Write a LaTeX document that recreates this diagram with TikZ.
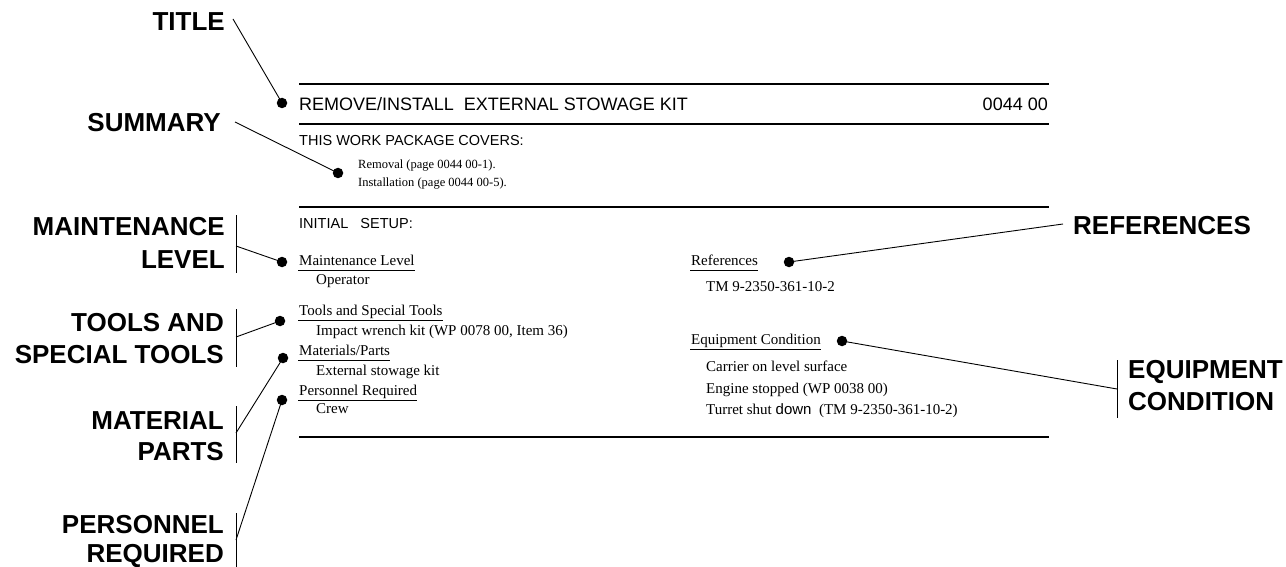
\documentclass[tikz,border=0pt]{standalone}
\usepackage{fontspec}
\setmainfont{Liberation Serif}
\setsansfont{Liberation Sans}
\begin{document}
\begin{tikzpicture}[x=1pt,y=-1pt,
  big/.style={font=\sffamily\bfseries\fontsize{26}{31}\selectfont, inner sep=0},
  bigR/.style={big, anchor=base east},
  bigL/.style={big, anchor=base west},
  ttl/.style={font=\sffamily\fontsize{18}{20}\selectfont, inner sep=0},
  hsans/.style={font=\sffamily\fontsize{14.5}{16}\selectfont, inner sep=0, anchor=base west},
  body/.style={font=\fontsize{15}{17}\selectfont, inner sep=0, anchor=base west},
  small/.style={font=\fontsize{12.5}{14}\selectfont, inner sep=0, anchor=base west},
  rule/.style={line width=2.2pt},
  uline/.style={line width=1.5pt},
  bar/.style={line width=0.9pt},
  conn/.style={line width=0.9pt},
  dot/.style={circle, fill=black, inner sep=0, minimum size=10.5pt}
]
\useasboundingbox (0,0) rectangle (1286,567);

% ---- document rules ----
\coordinate (r1a) at (299,84);  \coordinate (r1b) at (1049,84);
\coordinate (r2a) at (299,124); \coordinate (r2b) at (1049,124);
\coordinate (r3a) at (299,207); \coordinate (r3b) at (1049,207);
\coordinate (r4a) at (299,437); \coordinate (r4b) at (1049,437);
\draw[rule] (r1a) -- (r1b);
\draw[rule] (r2a) -- (r2b);
\draw[rule] (r3a) -- (r3b);
\draw[rule] (r4a) -- (r4b);

% ---- document texts ----
\node[ttl, anchor=base west] (tt) at (299,111) {REMOVE/INSTALL\ \ EXTERNAL STOWAGE KIT};
\node[ttl, anchor=base east] (wp) at (1048,111) {0044 00};
\node[hsans] (cov) at (299,146) {THIS WORK PACKAGE COVERS:};
\node[small] (rem) at (358,168) {Removal (page 0044 00-1).};
\node[small] (ins) at (358,186) {Installation (page 0044 00-5).};
\node[hsans] (init) at (299,229) {INITIAL\ \ \ SETUP:};

\node[body] (ml) at (299,265) {Maintenance Level};
\node[body] (op) at (316,284) {Operator};
\node[body] (ts) at (299,315) {Tools and Special Tools};
\node[body] (iw) at (316,335) {Impact wrench kit (WP 0078 00, Item 36)};
\node[body] (mp) at (299,355) {Materials/Parts};
\node[body] (es) at (316,375) {External stowage kit};
\node[body] (pr) at (299,395) {Personnel Required};
\node[body] (cr) at (316,413) {Crew};

\node[body] (rf) at (691,265) {References};
\node[body] (tm) at (706,291) {TM 9-2350-361-10-2};
\node[body] (ec) at (691,344) {Equipment Condition};
\node[body] (cl) at (706,371) {Carrier on level surface};
\node[body] (en) at (706,393) {Engine stopped (WP 0038 00)};
\node[body] (tu) at (706,414) {Turret shut {\sffamily down}\ \ (TM 9-2350-361-10-2)};

\foreach \n in {ml,ts,mp,pr,rf,ec}
  \draw[uline] ([shift={(-1pt,-5.5pt)}]\n.base west) -- ([yshift=-5.5pt]\n.base east);

% ---- dots ----
\node[dot] (dTitle) at (282,103) {};
\node[dot] (dSum) at (338,173) {};
\node[dot] (dML) at (282,262) {};
\node[dot] (dTS) at (280,321) {};
\node[dot] (dMP) at (283,358) {};
\node[dot] (dPR) at (282,400) {};
\node[dot] (dRF) at (789,262) {};
\node[dot] (dEC) at (842,341) {};

% ---- callout labels ----
\node[bigR] (lTitle) at (225,31) {TITLE};
\node[bigR] (lSum) at (221,132) {SUMMARY};
\node[bigR] (lML1) at (225,236) {MAINTENANCE};
\node[bigR] (lML2) at (225,268) {LEVEL};
\node[bigR] (lTS1) at (224,331) {TOOLS AND};
\node[bigR] (lTS2) at (224,363) {SPECIAL TOOLS};
\node[bigR] (lMP1) at (224,429) {MATERIAL};
\node[bigR] (lMP2) at (224,460) {PARTS};
\node[bigR] (lPR1) at (224,533) {PERSONNEL};
\node[bigR] (lPR2) at (224,562) {REQUIRED};
\node[bigL] (lRF) at (1073,234) {REFERENCES};
\node[bigL] (lEC1) at (1128,378) {EQUIPMENT};
\node[bigL] (lEC2) at (1128,410) {CONDITION};

% ---- bars ----
\coordinate (bML1) at (236,215); \coordinate (bML2) at (236,273); \coordinate (cML) at (236,246);
\coordinate (bTS1) at (236,309); \coordinate (bTS2) at (236,367); \coordinate (cTS) at (236,337);
\coordinate (bMP1) at (236,406); \coordinate (bMP2) at (236,463); \coordinate (cMP) at (236,433);
\coordinate (bPR1) at (236,513); \coordinate (bPR2) at (236,567); \coordinate (cPR) at (236,540);
\coordinate (bEC1) at (1117,360); \coordinate (bEC2) at (1117,418); \coordinate (cEC) at (1117,389);
\draw[bar] (bML1) -- (bML2);
\draw[bar] (bTS1) -- (bTS2);
\draw[bar] (bMP1) -- (bMP2);
\draw[bar] (bPR1) -- (bPR2);
\draw[bar] (bEC1) -- (bEC2);

% ---- connectors ----
\coordinate (cTitle) at (233,19);
\coordinate (cSum) at (235,122);
\coordinate (cRF) at (1063,224);
\draw[conn] (cTitle) -- (dTitle.center);
\draw[conn] (cSum) -- (dSum.center);
\draw[conn] (cML) -- (dML.center);
\draw[conn] (cTS) -- (dTS.center);
\draw[conn] (cMP) -- (dMP.center);
\draw[conn] (cPR) -- (dPR.center);
\draw[conn] (cRF) -- (dRF.center);
\draw[conn] (cEC) -- (dEC.center);
\end{tikzpicture}
\end{document}
